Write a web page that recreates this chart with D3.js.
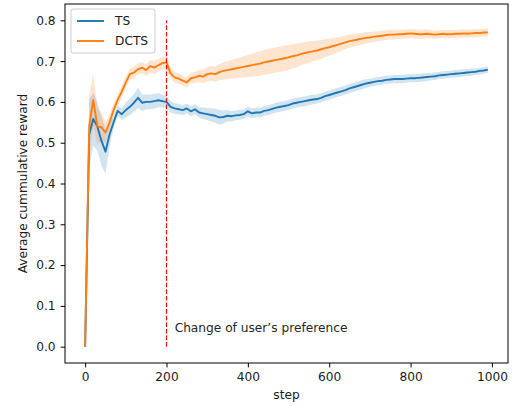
<!DOCTYPE html>
<html>
<head>
<meta charset="utf-8">
<script src="https://cdn.jsdelivr.net/npm/d3@7"></script>
<style>
  body { margin: 0; background: #fff; }
  svg { display: block; font-family: "DejaVu Sans", sans-serif; }
</style>
</head>
<body>
<svg id="chart" width="516" height="406"></svg>
<script>
// x grid: one sample every 10 steps
const steps = d3.range(0, 1000, 10)

const tsMean = [
  0.000, 0.520, 0.558, 0.540, 0.505, 0.478, 0.520, 0.550, 0.578, 0.570,
  0.580, 0.588, 0.598, 0.610, 0.598, 0.600, 0.600, 0.602, 0.604, 0.602,
  0.600, 0.588, 0.584, 0.582, 0.580, 0.584, 0.577, 0.582, 0.574, 0.572,
  0.570, 0.568, 0.566, 0.562, 0.563, 0.566, 0.565, 0.567, 0.568, 0.570,
  0.577, 0.572, 0.574, 0.574, 0.578, 0.580, 0.583, 0.586, 0.588, 0.590,
  0.592, 0.596, 0.598, 0.600, 0.602, 0.604, 0.606, 0.607, 0.610, 0.614,
  0.617, 0.620, 0.623, 0.626, 0.629, 0.633, 0.636, 0.639, 0.642, 0.645,
  0.647, 0.649, 0.651, 0.652, 0.654, 0.655, 0.656, 0.656, 0.656, 0.657,
  0.658, 0.658, 0.659, 0.660, 0.661, 0.662, 0.663, 0.665, 0.666, 0.667,
  0.668, 0.669, 0.670, 0.671, 0.672, 0.673, 0.674, 0.676, 0.677, 0.679
]
const tsBand = [
  0.000, 0.085, 0.065, 0.060, 0.060, 0.055, 0.030, 0.015, 0.012, 0.014,
  0.018, 0.020, 0.022, 0.025, 0.020, 0.018, 0.018, 0.018, 0.017, 0.016,
  0.016, 0.014, 0.013, 0.013, 0.012, 0.012, 0.012, 0.012, 0.013, 0.014,
  0.015, 0.016, 0.017, 0.018, 0.016, 0.014, 0.013, 0.012, 0.012, 0.012,
  0.012, 0.012, 0.012, 0.012, 0.012, 0.012, 0.012, 0.012, 0.012, 0.012,
  0.012, 0.012, 0.012, 0.012, 0.012, 0.012, 0.012, 0.011, 0.011, 0.011,
  0.011, 0.011, 0.011, 0.011, 0.011, 0.011, 0.011, 0.011, 0.011, 0.011,
  0.010, 0.010, 0.010, 0.010, 0.010, 0.010, 0.010, 0.010, 0.010, 0.010,
  0.010, 0.010, 0.010, 0.010, 0.010, 0.009, 0.009, 0.009, 0.009, 0.009,
  0.009, 0.009, 0.009, 0.009, 0.009, 0.009, 0.008, 0.008, 0.008, 0.008
]
const dctsMean = [
  0.000, 0.540, 0.605, 0.540, 0.538, 0.525, 0.550, 0.580, 0.605, 0.625,
  0.648, 0.668, 0.672, 0.680, 0.684, 0.678, 0.688, 0.684, 0.690, 0.695,
  0.697, 0.670, 0.660, 0.657, 0.652, 0.648, 0.658, 0.660, 0.664, 0.662,
  0.668, 0.670, 0.668, 0.673, 0.676, 0.678, 0.680, 0.682, 0.684, 0.686,
  0.688, 0.690, 0.692, 0.694, 0.697, 0.699, 0.701, 0.703, 0.705, 0.707,
  0.709, 0.712, 0.714, 0.717, 0.720, 0.722, 0.724, 0.726, 0.729, 0.732,
  0.734, 0.737, 0.740, 0.743, 0.746, 0.749, 0.751, 0.753, 0.755, 0.757,
  0.758, 0.760, 0.761, 0.762, 0.764, 0.765, 0.765, 0.766, 0.766, 0.767,
  0.768, 0.767, 0.766, 0.766, 0.767, 0.766, 0.765, 0.766, 0.767, 0.766,
  0.766, 0.767, 0.767, 0.768, 0.767, 0.768, 0.769, 0.769, 0.770, 0.770
]
const dctsBand = [
  0.000, 0.075, 0.065, 0.045, 0.035, 0.025, 0.018, 0.015, 0.015, 0.014,
  0.014, 0.014, 0.013, 0.014, 0.014, 0.015, 0.015, 0.016, 0.016, 0.016,
  0.015, 0.014, 0.013, 0.013, 0.012, 0.012, 0.013, 0.014, 0.015, 0.016,
  0.017, 0.018, 0.019, 0.020, 0.021, 0.022, 0.023, 0.024, 0.025, 0.026,
  0.027, 0.028, 0.029, 0.030, 0.030, 0.031, 0.031, 0.031, 0.031, 0.031,
  0.030, 0.030, 0.029, 0.028, 0.027, 0.026, 0.025, 0.024, 0.023, 0.022,
  0.021, 0.020, 0.019, 0.018, 0.017, 0.016, 0.015, 0.015, 0.014, 0.014,
  0.013, 0.013, 0.012, 0.012, 0.012, 0.012, 0.012, 0.011, 0.011, 0.011,
  0.011, 0.011, 0.011, 0.011, 0.011, 0.010, 0.010, 0.010, 0.010, 0.010,
  0.010, 0.010, 0.010, 0.010, 0.010, 0.010, 0.010, 0.010, 0.010, 0.010
]

const xTicks = [0, 200, 400, 600, 800, 1000]
const yTicks = [0.0, 0.1, 0.2, 0.3, 0.4, 0.5, 0.6, 0.7, 0.8]
const changeStep = 200
const changeLabel = 'Change of user\u2019s preference'

const series = [
  {name: 'TS', mean: tsMean, band: tsBand, color: '#1f77b4'},
  {name: 'DCTS', mean: dctsMean, band: dctsBand, color: '#ff7f0e'}
]

const margin = {left: 65, right: 8, top: 4, bottom: 43}
const width = 516, height = 406
const fontSize = 12.2

const svg = d3.select('#chart')

const x = d3.scaleLinear().domain([-49.5, 1039.5]).range([margin.left, width - margin.right])
const y = d3.scaleLinear().domain([-0.04, 0.84]).range([height - margin.bottom, margin.top])

const plot = svg.append('g')

//---------------------bands and lines--------------------------------

series.forEach(s => {
  const pts = steps.map((st, i) => ({st, m: s.mean[i], b: s.band[i]}))

  plot.append('path')
    .datum(pts)
    .attr('fill', s.color)
    .attr('fill-opacity', 0.2)
    .attr('d', d3.area().x(d => x(d.st)).y0(d => y(d.m - d.b)).y1(d => y(d.m + d.b)))

  s.pts = pts
})

series.forEach(s => {
  plot.append('path')
    .datum(s.pts)
    .attr('fill', 'none')
    .attr('stroke', s.color)
    .attr('stroke-width', 1.9)
    .attr('stroke-linejoin', 'round')
    .attr('d', d3.line().x(d => x(d.st)).y(d => y(d.m)))
})

// change point
plot.append('line')
  .attr('x1', x(changeStep)).attr('x2', x(changeStep))
  .attr('y1', y(0)).attr('y2', y(0.8))
  .attr('stroke', '#ff0000')
  .attr('stroke-width', 1.2)
  .attr('stroke-dasharray', '4.6,2')

plot.append('text')
  .attr('x', x(220)).attr('y', y(0.037))
  .attr('font-size', fontSize)
  .attr('fill', '#262626')
  .text(changeLabel)

//---------------------axes--------------------------------

const xAxis = svg.append('g')
  .attr('transform', `translate(0,${height - margin.bottom})`)
  .call(d3.axisBottom(x).tickValues(xTicks).tickSize(4.4).tickPadding(4.5).tickFormat(d3.format('d')))

const yAxis = svg.append('g')
  .attr('transform', `translate(${margin.left},0)`)
  .call(d3.axisLeft(y).tickValues(yTicks).tickSize(4.4).tickPadding(5).tickFormat(d3.format('.1f')))

;[xAxis, yAxis].forEach(a => {
  a.select('.domain').remove()
  a.selectAll('.tick line').attr('stroke', '#000').attr('stroke-width', 1)
  a.selectAll('.tick text').attr('font-size', fontSize).attr('fill', '#1a1a1a').attr('font-family', '"DejaVu Sans", sans-serif')
})

svg.append('rect')
  .attr('x', margin.left).attr('y', margin.top)
  .attr('width', width - margin.left - margin.right)
  .attr('height', height - margin.top - margin.bottom)
  .attr('fill', 'none')
  .attr('stroke', '#000')
  .attr('stroke-width', 1)

svg.append('text')
  .attr('x', (margin.left + width - margin.right) / 2)
  .attr('y', 399)
  .attr('text-anchor', 'middle')
  .attr('font-size', fontSize)
  .attr('fill', '#1a1a1a')
  .text('step')

svg.append('text')
  .attr('transform', `translate(27,${(margin.top + height - margin.bottom) / 2}) rotate(-90)`)
  .attr('text-anchor', 'middle')
  .attr('font-size', fontSize)
  .attr('fill', '#1a1a1a')
  .text('Average cummulative reward')

//---------------------legend--------------------------------

const legend = svg.append('g').attr('transform', 'translate(71,9)')

legend.append('rect')
  .attr('width', 84).attr('height', 44)
  .attr('rx', 2.5)
  .attr('fill', '#fff').attr('fill-opacity', 0.8)
  .attr('stroke', '#cccccc').attr('stroke-width', 1)

series.forEach((s, i) => {
  const g = legend.append('g').attr('transform', `translate(0,${12 + i * 20})`)
  g.append('line')
    .attr('x1', 6).attr('x2', 33)
    .attr('stroke', s.color).attr('stroke-width', 1.9)
  g.append('text')
    .attr('x', 44).attr('dy', '0.36em')
    .attr('font-size', fontSize)
    .attr('fill', '#1a1a1a')
    .text(s.name)
})
</script>
</body>
</html>
